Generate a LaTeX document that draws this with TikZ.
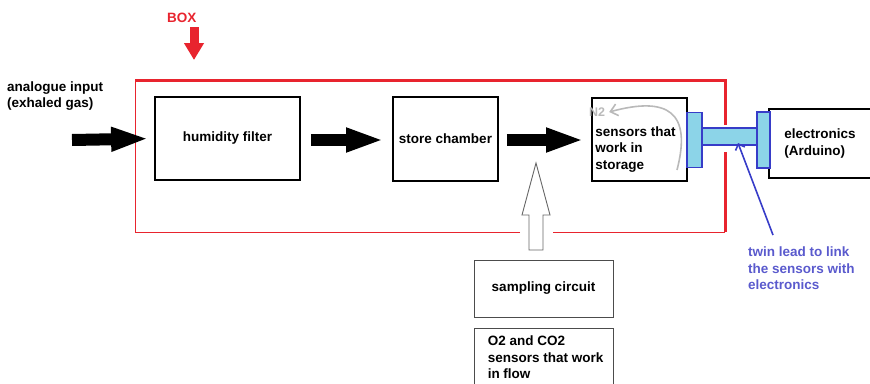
\documentclass[tikz,border=0pt]{standalone}
\usepackage{fontspec}
\setmainfont{Liberation Sans}
\usetikzlibrary{arrows.meta}
\definecolor{boxred}{RGB}{232,36,46}
\definecolor{leadblue}{RGB}{55,60,200}
\definecolor{leadcyan}{RGB}{140,212,232}
\definecolor{textblue}{RGB}{90,90,205}
\definecolor{ntwogray}{RGB}{185,185,185}
\begin{document}
\begin{tikzpicture}[x=1pt,y=-1pt,
    every node/.style={font=\fontsize{13.5}{16.5}\selectfont\bfseries, inner sep=0pt},
    blk/.style={draw, line width=1.8pt, rectangle},
    thinblk/.style={draw=black!70, line width=0.9pt, rectangle},
    txt/.style={align=left},
    bigarrow/.style={line width=12pt, -{Triangle[length=38pt,width=22pt]}},
    redthick/.style={draw=boxred, line width=3pt},
    redthin/.style={draw=boxred, line width=0.9pt},
    plug/.style={draw=leadblue, line width=1.8pt, fill=leadcyan, rectangle}]
    \useasboundingbox (0,0) rectangle (870,383);

    % Caja
    \draw[redthick] (135,80) -- (725,80) -- (725,125);
    \draw[redthick] (725,152) -- (725,232);
    \draw[redthin] (725,232) -- (553,232);
    \draw[redthin] (520,232) -- (135,232) -- (135,78.5);
    \node[text=boxred, anchor=west] (boxlbl) at (167,18) {BOX};
    \coordinate (boxtip) at (194,60);
    \draw[boxred, line width=9pt, -{Triangle[length=17pt,width=19pt]}] (194,27) -- (boxtip);

    % Bloques
    \node[blk, minimum width=145pt, minimum height=83pt] (hum) at (227.5,138.5) {humidity filter};
    \node[blk, minimum width=105pt, minimum height=84pt] (store) at (445.5,139) {store chamber};
    \node[blk, minimum width=95pt, minimum height=83pt] (sens) at (639.5,139.5) {};
    \node[txt, anchor=west] (senstxt) at ([xshift=4pt,yshift=-10pt]sens.west) {sensors that\\work in\\storage};
    \node[blk, minimum width=111pt, minimum height=69pt] (elec) at (824.5,143.5) {};
    \node[txt, anchor=west] (electxt) at ([xshift=16pt]elec.west) {electronics\\(Arduino)};
    \node[thinblk, minimum width=139pt, minimum height=57pt] (samp) at (543.5,288.5) {sampling circuit};
    \node[thinblk, minimum width=139pt, minimum height=80pt, anchor=north] (flow) at (543.5,328) {};
    \node[txt, anchor=north west] (flowtxt) at ([xshift=14pt,yshift=-8pt]flow.north west) {O2 and CO2\\sensors that work\\in flow};

    % Entrada
    \node[txt, anchor=west] (inlbl) at (7,96) {analogue input\\(exhaled gas)};
    \coordinate (inp) at (72,140);

    % Flechas
    \draw[bigarrow, shorten >=5pt] (inp) -- (hum.west);
    \draw[bigarrow, shorten <=10pt, shorten >=8pt] (hum.east |- 0,140) -- (store.west |- 0,140);
    \draw[bigarrow, shorten <=8pt, shorten >=7pt] (store.east |- 0,140) -- (sens.west |- 0,140);

    % Muestreo
    \draw[black!60, line width=0.9pt, fill=white] (529,250) -- (529,215) -- (522,215) -- (536,163)
        -- (550,215) -- (543,215) -- (543,250) -- cycle;

    % N2
    \node[text=ntwogray, font=\fontsize{12.5}{14}\selectfont\bfseries] (ntwo) at (597,112) {N2};
    \coordinate (ncurve) at (677,170);
    \draw[ntwogray, line width=1.6pt, -{Straight Barb[length=7pt,width=12pt]}]
        (ncurve) .. controls (692,112) and (668,96) .. ([xshift=4pt]ntwo.east);

    % Conector
    \node[plug, minimum width=55pt, minimum height=17pt] (bar) at (729.5,136.5) {};
    \node[plug, minimum width=15pt, minimum height=55pt] (plugl) at (694.5,140) {};
    \node[plug, minimum width=13pt, minimum height=56pt] (plugr) at (763.5,140) {};

    % Cable
    \node[txt, anchor=north west, text=textblue] (leadtxt) at (748,247) {twin lead to link\\the sensors with\\electronics};
    \coordinate (leadfoot) at (773,235);
    \coordinate (leadtip) at (738,143);
    \draw[leadblue, line width=1.6pt, -{Straight Barb[length=5pt,width=10pt]}] (leadfoot) -- (leadtip);
\end{tikzpicture}
\end{document}
